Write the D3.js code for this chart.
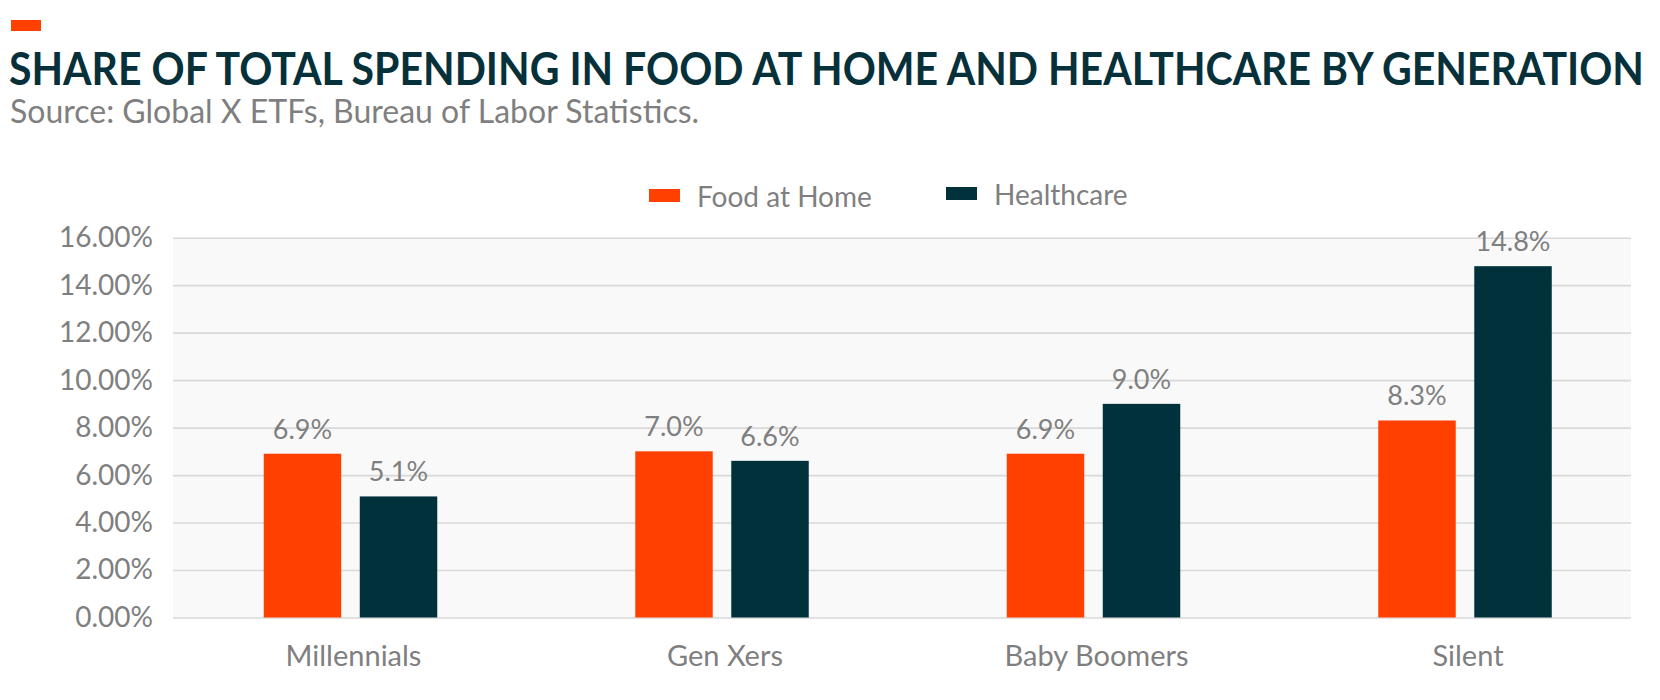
<!DOCTYPE html>
<html>
<head>
<meta charset="utf-8">
<script src="https://cdn.jsdelivr.net/npm/d3@7"></script>
<style>
  body { margin: 0; background: #fff; }
  svg { display: block; }
  text { font-family: Lato, "Open Sans", sans-serif; }
</style>
</head>
<body>
<svg width="1660" height="700"></svg>
<script>
const generations = ["Millennials", "Gen Xers", "Baby Boomers", "Silent"]
const seriesNames = ["Food at Home", "Healthcare"]
const foodAtHome = [6.9, 7.0, 6.9, 8.3]
const healthcare = [5.1, 6.6, 9.0, 14.8]
const yTicks = [0, 2, 4, 6, 8, 10, 12, 14, 16]
const colors = ["#ff4000", "#01313a"]
const gray = "#7f7f7f"

const plotLeft = 173, plotRight = 1631, plotTop = 237.7, plotBottom = 617.5

var svg = d3.select("svg")

svg.append("rect")
  .attr("x", 11).attr("y", 20)
  .attr("width", 30).attr("height", 11)
  .attr("fill", colors[0])

// title is a condensed face in the original, so squeeze it horizontally
var title = svg.append("text")
  .attr("x", 0).attr("y", 0)
  .attr("font-family", "Roboto, sans-serif")
  .attr("font-weight", 700)
  .attr("font-size", 46)
  .attr("fill", "#06303a")
  .text("SHARE OF TOTAL SPENDING IN FOOD AT HOME AND HEALTHCARE BY GENERATION")
var titleW = title.node().getComputedTextLength()
title.attr("transform", `translate(9,85) scale(${1635 / titleW},1)`)

svg.append("text")
  .attr("x", 10).attr("y", 123)
  .attr("font-size", 32)
  .attr("fill", gray)
  .text("Source: Global X ETFs, Bureau of Labor Statistics.")

// scales
var y = d3.scaleLinear().domain([0, 16]).range([plotBottom, plotTop])
var x = d3.scaleBand().domain(generations).range([164.75, 1650.75])
var xInner = d3.scaleBand().domain(seriesNames).range([0, 173.5]).paddingInner(0.193)

svg.append("rect")
  .attr("x", plotLeft).attr("y", plotTop)
  .attr("width", plotRight - plotLeft).attr("height", plotBottom - plotTop)
  .attr("fill", "#f9f9f9")

var yAxis = svg.append("g")
  .attr("transform", `translate(${plotLeft},0)`)
  .call(d3.axisLeft(y).tickValues(yTicks)
    .tickSize(-(plotRight - plotLeft))
    .tickPadding(20)
    .tickFormat(d => d.toFixed(2) + "%"))
yAxis.select(".domain").remove()
yAxis.selectAll(".tick line").attr("stroke", "#d9d9d9").attr("stroke-width", 1.6)
yAxis.selectAll(".tick text")
  .attr("font-family", "Lato, sans-serif")
  .attr("font-size", 28)
  .attr("fill", gray)

var data = generations.map((g, i) => ({ gen: g, values: [foodAtHome[i], healthcare[i]] }))

var groups = svg.selectAll(".group")
  .data(data)
  .enter().append("g")
  .attr("class", "group")
  .attr("transform", d => `translate(${x(d.gen) + x.bandwidth() / 2 - 86.75},0)`)

groups.selectAll("rect")
  .data(d => d.values.map((v, j) => ({ series: seriesNames[j], value: v, j: j })))
  .enter().append("rect")
  .attr("x", d => xInner(d.series))
  .attr("y", d => y(d.value))
  .attr("width", xInner.bandwidth())
  .attr("height", d => y(0) - y(d.value))
  .attr("fill", d => colors[d.j])

groups.selectAll(".val")
  .data(d => d.values.map((v, j) => ({ series: seriesNames[j], value: v })))
  .enter().append("text")
  .attr("class", "val")
  .attr("x", d => xInner(d.series) + xInner.bandwidth() / 2)
  .attr("y", d => y(d.value) - 15)
  .attr("text-anchor", "middle")
  .attr("font-size", 27)
  .attr("fill", gray)
  .text(d => d.value.toFixed(1) + "%")

svg.selectAll(".xlabel")
  .data(generations)
  .enter().append("text")
  .attr("class", "xlabel")
  .attr("x", d => x(d) + x.bandwidth() / 2 + 3)
  .attr("y", 666)
  .attr("text-anchor", "middle")
  .attr("font-size", 29)
  .attr("fill", gray)
  .text(d => d)

// legend
const legendX = [649, 946]
const legendY = [207, 205]
var legend = svg.selectAll(".legend")
  .data(seriesNames)
  .enter().append("g")
  .attr("class", "legend")
  .attr("transform", (d, i) => `translate(${legendX[i]},${legendY[i]})`)

legend.append("rect")
  .attr("x", 0).attr("y", -18)
  .attr("width", 31).attr("height", 13)
  .attr("fill", (d, i) => colors[i])

legend.append("text")
  .attr("x", 48).attr("y", 0)
  .attr("font-size", 28)
  .attr("fill", gray)
  .text(d => d)
</script>
</body>
</html>
